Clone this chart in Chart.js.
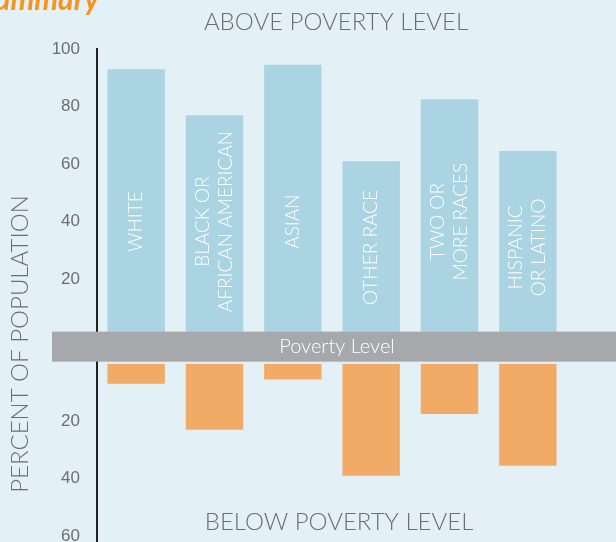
<!DOCTYPE html>
<html>
<head>
<meta charset="utf-8">
<script src="https://cdn.jsdelivr.net/npm/chart.js@4.4.0/dist/chart.umd.min.js"></script>
<style>
  html, body { margin: 0; padding: 0; background: #e3f0f6; }
  #wrap { position: relative; width: 616px; height: 542px; overflow: hidden; }
</style>
</head>
<body>
<div id="wrap"><canvas id="chart" width="616" height="542"></canvas></div>
<script>
// groups, each name split into the lines drawn inside the bar
const categories = [
    ['WHITE'],
    ['BLACK OR', 'AFRICAN AMERICAN'],
    ['ASIAN'],
    ['OTHER RACE'],
    ['TWO OR', 'MORE RACES'],
    ['HISPANIC', 'OR LATINO']
];
const abovePoverty = [93, 77, 94.5, 61, 82.5, 64.5];   // % above poverty level
const belowPoverty = [7, 23, 5.5, 39, 17.5, 35.5];     // % below poverty level
const aboveTicks = [20, 40, 60, 80, 100];
const belowTicks = [20, 40, 60];

const textGray = '#6d6e71';
const upMin = -9.4, upMax = 100, downMax = 62;   // room under zero is taken by the band

const decor = {
    id: 'decor',
    beforeDraw(chart) {
        const ctx = chart.ctx;
        ctx.save();
        ctx.fillStyle = '#e3f0f6';
        ctx.fillRect(0, 0, chart.width, chart.height);
        // cut-off heading of the page above
        ctx.fillStyle = '#f7941d';
        ctx.font = 'bold italic 30px Lato';
        ctx.textAlign = 'right';
        ctx.textBaseline = 'alphabetic';
        ctx.fillText('Summary', 99, 10);
        ctx.restore();
    },
    afterDatasetsDraw(chart) {
        const ctx = chart.ctx;
        const up = chart.scales.yUp, down = chart.scales.yDown;
        const bars = chart.getDatasetMeta(0).data;
        ctx.save();

        // names inside the blue bars
        ctx.fillStyle = '#ffffff';
        ctx.font = '300 19px Lato';
        ctx.textAlign = 'center';
        ctx.textBaseline = 'middle';
        categories.forEach((lines, i) => {
            const cy = up.getPixelForValue(abovePoverty[i] >= 75 ? 40 : 31);
            ctx.save();
            ctx.translate(bars[i].x, cy);
            ctx.rotate(-Math.PI / 2);
            lines.forEach((t, j) => ctx.fillText(t, 0, (j - (lines.length - 1) / 2) * 23));
            ctx.restore();
        });

        // poverty level band
        const top = up.getPixelForValue(0) - 5;
        const bottom = down.getPixelForValue(0) - 2;
        ctx.fillStyle = '#a7a8ab';
        ctx.fillRect(52, top, chart.width - 52, bottom - top);
        ctx.fillStyle = '#ffffff';
        ctx.font = '300 20px Lato';
        ctx.fillText('Poverty Level', 337, (top + bottom) / 2);

        // headings
        ctx.fillStyle = textGray;
        ctx.font = '300 24px Lato';
        ctx.fillText('ABOVE POVERTY LEVEL', 336, 22);
        ctx.fillText('BELOW POVERTY LEVEL', 339, 522);

        ctx.save();
        ctx.translate(20, 344);
        ctx.rotate(-Math.PI / 2);
        ctx.fillText('PERCENT OF POPULATION', 0, 0);
        ctx.restore();

        ctx.restore();
    }
};

function axis(extra, shown) {
    return Object.assign({
        position: 'left',
        stack: 'pov',
        grid: { display: false },
        border: { display: true, color: '#231f20', width: 2 },
        ticks: {
            stepSize: 20,
            includeBounds: false,
            padding: 9,
            color: textGray,
            font: { family: "'Liberation Sans Narrow', 'Liberation Sans', sans-serif", size: 17 },
            callback: v => shown.includes(v) ? v : ''
        },
        afterFit: s => {
            s.width = 45;
            s.paddingTop = 0;
            s.paddingBottom = 0;
        }
    }, extra);
}

new Chart(document.getElementById('chart'), {
    type: 'bar',
    data: {
        labels: categories,
        datasets: [{
            label: 'Above poverty level',
            data: abovePoverty,
            yAxisID: 'yUp',
            backgroundColor: '#abd4e2'
        }, {
            label: 'Below poverty level',
            data: belowPoverty,
            yAxisID: 'yDown',
            backgroundColor: '#f2ab67'
        }]
    },
    options: {
        responsive: false,
        animation: false,
        layout: { padding: { left: 52, right: 49, top: 49, bottom: 0 } },
        datasets: { bar: { grouped: false, categoryPercentage: 1, barPercentage: 0.733 } },
        plugins: { legend: { display: false }, tooltip: { enabled: false } },
        scales: {
            x: { display: false },
            yDown: axis({ stackWeight: downMax, min: 0, max: downMax, reverse: true }, belowTicks),
            yUp: axis({ stackWeight: upMax - upMin, min: upMin, max: upMax }, aboveTicks)
        }
    },
    plugins: [decor]
});
</script>
</body>
</html>
